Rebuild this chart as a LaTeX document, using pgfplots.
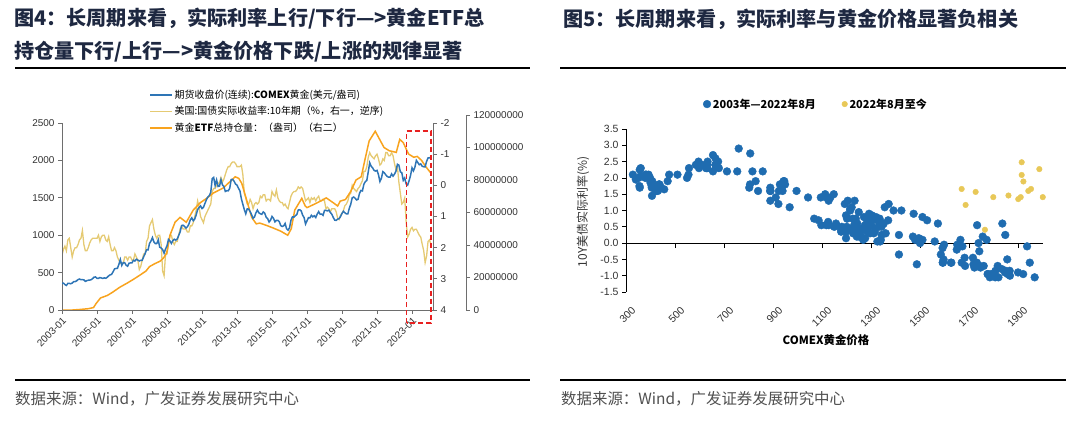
\documentclass[border=0pt]{standalone}
\usepackage{fontspec}
\setmainfont{Liberation Sans}
\newfontfamily\cjk{Noto Sans CJK SC}
\usepackage{pgfplots}
\usepackage{pgfplotstable}
\pgfplotsset{compat=1.18}

\definecolor{gblue}{RGB}{46,117,182}
\definecolor{gyel}{RGB}{229,202,115}
\definecolor{gora}{RGB}{248,163,30}
\definecolor{sblue}{RGB}{31,108,176}
\definecolor{syel}{RGB}{232,200,88}
\definecolor{ttl}{RGB}{30,40,65}
\definecolor{axg}{RGB}{110,110,110}
\definecolor{txg}{RGB}{50,50,50}
\definecolor{srcg}{RGB}{80,80,80}
\definecolor{boxred}{RGB}{232,32,32}

\pgfplotstableread{
yr m g r
2003 1 356 2.25
2003 2 359 2.05
2003 3 340 1.95
2003 4 328 2.10
2003 5 355 1.75
2003 6 356 1.70
2003 7 351 2.00
2003 8 360 2.30
2003 9 379 2.10
2003 10 379 2.00
2003 11 389 2.00
2003 12 407 1.90
2004 1 414 1.75
2004 2 405 1.70
2004 3 406 1.45
2004 4 403 1.90
2004 5 383 2.10
2004 6 392 2.10
2004 7 398 2.00
2004 8 400 1.85
2004 9 405 1.75
2004 10 420 1.70
2004 11 439 1.70
2004 12 442 1.70
2005 1 424 1.70
2005 2 423 1.60
2005 3 434 1.80
2005 4 428 1.65
2005 5 422 1.60
2005 6 430 1.60
2005 7 424 1.75
2005 8 437 1.80
2005 9 456 1.65
2005 10 470 1.90
2005 11 476 2.10
2005 12 510 2.10
2006 1 549 2.00
2006 2 555 2.10
2006 3 557 2.30
2006 4 610 2.40
2006 5 676 2.50
2006 6 596 2.50
2006 7 633 2.50
2006 8 632 2.30
2006 9 598 2.30
2006 10 585 2.40
2006 11 627 2.30
2006 12 629 2.30
2007 1 631 2.40
2007 2 665 2.40
2007 3 655 2.20
2007 4 679 2.30
2007 5 667 2.40
2007 6 655 2.70
2007 7 665 2.60
2007 8 665 2.40
2007 9 712 2.20
2007 10 754 2.20
2007 11 806 1.80
2007 12 803 1.70
2008 1 889 1.30
2008 2 922 1.20
2008 3 968 1.10
2008 4 911 1.40
2008 5 888 1.60
2008 6 889 1.70
2008 7 939 1.60
2008 8 839 1.60
2008 9 829 1.90
2008 10 807 2.75
2008 11 760 2.90
2008 12 816 2.20
2009 1 858 2.20
2009 2 943 1.90
2009 3 924 1.60
2009 4 890 1.60
2009 5 928 1.80
2009 6 946 1.90
2009 7 934 1.80
2009 8 949 1.80
2009 9 996 1.60
2009 10 1043 1.40
2009 11 1127 1.30
2009 12 1134 1.40
2010 1 1118 1.40
2010 2 1095 1.40
2010 3 1113 1.50
2010 4 1148 1.50
2010 5 1205 1.30
2010 6 1233 1.30
2010 7 1193 1.20
2010 8 1215 1.00
2010 9 1271 0.80
2010 10 1343 0.50
2010 11 1370 0.70
2010 12 1392 1.00
2011 1 1356 1.10
2011 2 1372 1.20
2011 3 1424 1.00
2011 4 1474 0.90
2011 5 1510 0.80
2011 6 1529 0.70
2011 7 1573 0.60
2011 8 1756 0.20
2011 9 1772 0.10
2011 10 1665 0.10
2011 11 1739 0.00
2011 12 1652 -0.05
2012 1 1656 -0.10
2012 2 1742 -0.25
2012 3 1673 -0.10
2012 4 1650 -0.20
2012 5 1585 -0.35
2012 6 1596 -0.50
2012 7 1593 -0.60
2012 8 1626 -0.60
2012 9 1744 -0.70
2012 10 1747 -0.75
2012 11 1722 -0.75
2012 12 1684 -0.70
2013 1 1670 -0.60
2013 2 1628 -0.60
2013 3 1593 -0.60
2013 4 1487 -0.65
2013 5 1414 -0.35
2013 6 1343 0.25
2013 7 1286 0.40
2013 8 1352 0.60
2013 9 1349 0.60
2013 10 1316 0.45
2013 11 1275 0.55
2013 12 1225 0.75
2014 1 1244 0.60
2014 2 1300 0.55
2014 3 1336 0.60
2014 4 1299 0.55
2014 5 1287 0.35
2014 6 1279 0.40
2014 7 1311 0.30
2014 8 1296 0.30
2014 9 1239 0.50
2014 10 1222 0.45
2014 11 1176 0.45
2014 12 1201 0.50
2015 1 1251 0.20
2015 2 1227 0.30
2015 3 1178 0.35
2015 4 1198 0.15
2015 5 1199 0.40
2015 6 1181 0.50
2015 7 1128 0.55
2015 8 1117 0.55
2015 9 1125 0.65
2015 10 1157 0.60
2015 11 1086 0.70
2015 12 1068 0.75
2016 1 1097 0.55
2016 2 1199 0.35
2016 3 1245 0.25
2016 4 1242 0.20
2016 5 1260 0.20
2016 6 1276 0.15
2016 7 1337 0.05
2016 8 1340 0.10
2016 9 1326 0.05
2016 10 1268 0.10
2016 11 1236 0.30
2016 12 1150 0.50
2017 1 1192 0.45
2017 2 1234 0.40
2017 3 1231 0.55
2017 4 1267 0.40
2017 5 1246 0.45
2017 6 1260 0.40
2017 7 1236 0.50
2017 8 1283 0.40
2017 9 1315 0.35
2017 10 1280 0.50
2017 11 1283 0.50
2017 12 1265 0.45
2018 1 1331 0.50
2018 2 1331 0.75
2018 3 1325 0.70
2018 4 1335 0.75
2018 5 1304 0.85
2018 6 1281 0.75
2018 7 1238 0.75
2018 8 1202 0.75
2018 9 1198 0.85
2018 10 1215 1.05
2018 11 1221 1.10
2018 12 1250 0.95
2019 1 1292 0.90
2019 2 1320 0.80
2019 3 1300 0.65
2019 4 1285 0.60
2019 5 1284 0.50
2019 6 1360 0.30
2019 7 1414 0.25
2019 8 1500 0.00
2019 9 1510 0.10
2019 10 1495 0.15
2019 11 1471 0.20
2019 12 1480 0.10
2020 1 1560 0.05
2020 2 1598 -0.05
2020 3 1592 -0.15
2020 4 1682 -0.45
2020 5 1716 -0.45
2020 6 1732 -0.60
2020 7 1847 -0.90
2020 8 1968 -1.05
2020 9 1921 -0.95
2020 10 1900 -0.90
2020 11 1866 -0.85
2020 12 1858 -0.95
2021 1 1867 -1.00
2021 2 1808 -0.85
2021 3 1718 -0.65
2021 4 1760 -0.70
2021 5 1850 -0.85
2021 6 1835 -0.80
2021 7 1807 -1.05
2021 8 1785 -1.05
2021 9 1776 -0.95
2021 10 1777 -0.95
2021 11 1820 -1.05
2021 12 1790 -0.95
2022 1 1817 -0.70
2022 2 1856 -0.50
2022 3 1948 -0.60
2022 4 1937 -0.10
2022 5 1848 0.25
2022 6 1836 0.60
2022 7 1733 0.55
2022 8 1765 0.41
2022 9 1686 1.17
2022 10 1670 1.66
2022 11 1727 1.57
2022 12 1799 1.41
2023 1 1901 1.35
2023 2 1861 1.46
2023 3 1911 1.41
2023 4 2001 1.41
2023 6 1942 1.60
2023 7 1953 1.66
2023 8 1922 1.89
2023 9 1915 2.09
2023 10 1915 2.48
2023 11 1987 2.27
2023 12 2033 1.80
2024 1 2033 1.75
2024 2 2045 1.90
}\mon

\pgfplotstableread{
t v
2003.0 0
2003.6 0
2004.0 0.3
2004.5 0.8
2004.8 1.5
2004.95 4
2005.2 7.4
2005.6 9
2005.9 11
2006.3 14
2006.7 16.4
2007.1 19
2007.46 21.5
2007.8 24
2008.0 26.7
2008.3 28.5
2008.6 30
2008.8 32
2008.98 35
2009.17 46
2009.46 54
2009.74 57
2010.1 54
2010.5 61.5
2010.9 66
2011.3 69
2011.65 72
2012.2 75
2012.6 79
2012.9 82
2013.1 81
2013.27 78
2013.55 67.7
2013.84 57
2014.1 53
2014.3 53.5
2014.7 52
2015.06 50.5
2015.5 48.5
2015.9 46
2016.1 50
2016.3 61.5
2016.7 68.7
2016.9 64
2017.0 63
2017.4 65
2017.7 66.6
2018.1 69
2018.5 66
2018.75 64
2018.9 67
2019.2 68
2019.5 73
2019.8 80
2020.1 82
2020.3 92
2020.55 104
2020.9 110
2021.1 106
2021.4 100
2021.7 98
2022.1 97
2022.3 105
2022.5 103
2022.8 96
2023.1 94
2023.3 94.5
2023.55 92
2023.8 88
2024.1 84
}\etf

\begin{document}
\begin{tikzpicture}[x=1bp,y=1bp]
\path[use as bounding box] (0,0) rectangle (1080,420);

% ---------- titles and rules ----------
\node[anchor=west, inner sep=0, text=ttl, font=\cjk\bfseries\fontsize{20.2}{23}\selectfont] at (14,401) {图4：长周期来看，实际利率上行/下行—>黄金ETF总};
\node[anchor=west, inner sep=0, text=ttl, font=\cjk\bfseries\fontsize{20.2}{23}\selectfont] at (14,368) {持仓量下行/上行—>黄金价格下跌/上涨的规律显著};
\node[anchor=west, inner sep=0, text=ttl, font=\cjk\bfseries\fontsize{20.2}{23}\selectfont] at (563,401) {图5：长周期来看，实际利率与黄金价格显著负相关};
\draw[black, line width=1.3bp] (15,352) -- (530,352);
\draw[black, line width=1.3bp] (560,352) -- (1066,352);
\draw[black, line width=1.3bp] (15,40) -- (530,40);
\draw[black, line width=1.3bp] (560,40) -- (1066,40);
\node[anchor=west, inner sep=0, text=srcg, font=\cjk\fontsize{15.5}{18}\selectfont] at (15,21) {数据来源：Wind，广发证券发展研究中心};
\node[anchor=west, inner sep=0, text=srcg, font=\cjk\fontsize{15.5}{18}\selectfont] at (561,21) {数据来源：Wind，广发证券发展研究中心};

% ---------- left chart: real yield (right axis 1, reversed) ----------
\begin{axis}[at={(62bp,110bp)}, anchor=south west, scale only axis,
  width=371bp, height=187bp,
  xmin=2003, xmax=2024.2, ymin=-2, ymax=4, y dir=reverse,
  axis x line=none, axis y line*=right,
  ytick={-2,-1,0,1,2,3,4},
  tick align=outside, major tick length=4bp,
  axis line style={axg, line width=0.8bp}, ytick style={axg, line width=0.7bp},
  yticklabel style={font=\fontsize{10}{12}\selectfont, text=txg},
  /pgf/number format/assume math mode=true]
\addplot[gyel, line width=1.3bp] table[x expr=\thisrow{yr}+(\thisrow{m}-1)/12, y=r] {\mon};
\end{axis}

% ---------- left chart: ETF holdings (right axis 2) ----------
\begin{axis}[at={(62bp,110bp)}, anchor=south west, scale only axis,
  width=404bp, height=195bp,
  xmin=2003, xmax=2026.0857, ymin=0, ymax=120,
  axis x line=none, axis y line*=right,
  ytick={0,20,40,60,80,100,120},
  yticklabels={0,20000000,40000000,60000000,80000000,100000000,120000000},
  tick align=outside, major tick length=4bp,
  axis line style={axg, line width=0.8bp}, ytick style={axg, line width=0.7bp},
  yticklabel style={font=\fontsize{10}{12}\selectfont, text=txg},
  legend style={at={(0.213,1.145)}, anchor=north west, draw=none, fill=none,
    font=\cjk\fontsize{10}{12}\selectfont, row sep=2.5bp, inner sep=1bp},
  legend cell align=left,
  legend image code/.code={\draw[#1] (0bp,0bp) -- (22bp,0bp);}]
\addlegendimage{gblue, line width=1.5bp}
\addlegendentry{期货收盘价(连续):\textbf{COMEX}黄金(美元/盎司)}
\addlegendimage{gyel, line width=1.5bp}
\addlegendentry{美国:国债实际收益率:10年期（\%，右一，逆序)}
\addplot[gora, line width=1.5bp] table[x=t, y=v] {\etf};
\addlegendentry{黄金\textbf{ETF}总持仓量：（盎司）（右二）}
\end{axis}

% ---------- left chart: gold price (left axis) ----------
\begin{axis}[at={(62bp,110bp)}, anchor=south west, scale only axis,
  width=371bp, height=187bp,
  xmin=2003, xmax=2024.2, ymin=0, ymax=2500,
  axis x line*=bottom, axis y line*=left,
  xtick={2003,2005,2007,2009,2011,2013,2015,2017,2019,2021,2023},
  xticklabels={2003-01,2005-01,2007-01,2009-01,2011-01,2013-01,2015-01,2017-01,2019-01,2021-01,2023-01},
  ytick={0,500,1000,1500,2000,2500},
  tick align=outside, major tick length=4bp,
  axis line style={axg, line width=0.8bp}, tick style={axg, line width=0.7bp},
  xticklabel style={rotate=45, anchor=north east, font=\fontsize{10}{12}\selectfont, text=txg, inner sep=1.5bp},
  yticklabel style={font=\fontsize{10}{12}\selectfont, text=txg},
  /pgf/number format/assume math mode=true,
  /pgf/number format/1000 sep={}]
\addplot[gblue, line width=1.5bp] table[x expr=\thisrow{yr}+(\thisrow{m}-1)/12, y=g] {\mon};
\end{axis}

\draw[boxred, line width=1.4bp, dash pattern=on 5bp off 3bp] (406.7,97) rectangle (431,289);

% ---------- right chart: zero line with ticks ----------
\begin{axis}[at={(626bp,128bp)}, anchor=south west, scale only axis,
  width=416.5bp, height=163bp,
  xmin=300, xmax=2000, ymin=-1.5, ymax=3.5,
  axis x line=middle, axis y line=none,
  xtick={500,700,900,1100,1300,1500,1700,1900}, xticklabels={},
  tick align=outside, major tick length=5bp,
  axis line style={black, line width=0.8bp, -}, xtick style={black, line width=0.7bp}]
\addplot[draw=none, forget plot] coordinates {(300,0)};
\end{axis}

% ---------- right chart: scatter ----------
\begin{axis}[at={(626bp,128bp)}, anchor=south west, scale only axis,
  width=416.5bp, height=163bp,
  xmin=300, xmax=2000, ymin=-1.5, ymax=3.5,
  axis y line*=left, axis x line*=bottom,
  x axis line style={draw=none},
  xtick={300,500,700,900,1100,1300,1500,1700,1900}, xtick style={draw=none},
  ytick={-1.5,-1,-0.5,0,0.5,1,1.5,2,2.5,3,3.5},
  yticklabel style={/pgf/number format/.cd, fixed, fixed zerofill, precision=1, /tikz/.cd, font=\fontsize{10.5}{12}\selectfont, text=txg},
  xticklabel style={rotate=45, anchor=north east, font=\fontsize{10.5}{12}\selectfont, text=txg, yshift=-7bp},
  tick align=outside, major tick length=4bp,
  axis line style={black, line width=0.8bp}, ytick style={black, line width=0.7bp},
  /pgf/number format/assume math mode=true,
  /pgf/number format/1000 sep={},
  clip=false,
  legend columns=2,
  legend style={at={(0.456,1.153)}, anchor=center, draw=none, fill=none,
    font=\cjk\bfseries\fontsize{11}{13}\selectfont,
    /tikz/every odd column/.append style={column sep=0bp},
    /tikz/every even column/.append style={column sep=24bp}},
  legend image code/.code={\draw[#1] plot coordinates {(0bp,0bp)};}]
\addplot[only marks, mark=*, mark size=3.9bp, color=sblue]
  table[x=g, y=r, skip coords between index={235}{300}] {\mon};
\addlegendentry{2003年—2022年8月}
\addplot[only marks, mark=*, mark size=2.8bp, color=syel]
  table[x=g, y=r, skip coords between index={0}{235}, skip coords between index={250}{300}] {\mon};
\addlegendentry{2022年8月至今}
\end{axis}

\node[font=\cjk\bfseries\fontsize{11.5}{13}\selectfont, text=black] at (826,80) {COMEX黄金价格};
\node[rotate=90, font=\cjk\fontsize{12}{14}\selectfont, text=txg] at (583,208) {10Y美债实际利率(\%)};

\end{tikzpicture}
\end{document}
